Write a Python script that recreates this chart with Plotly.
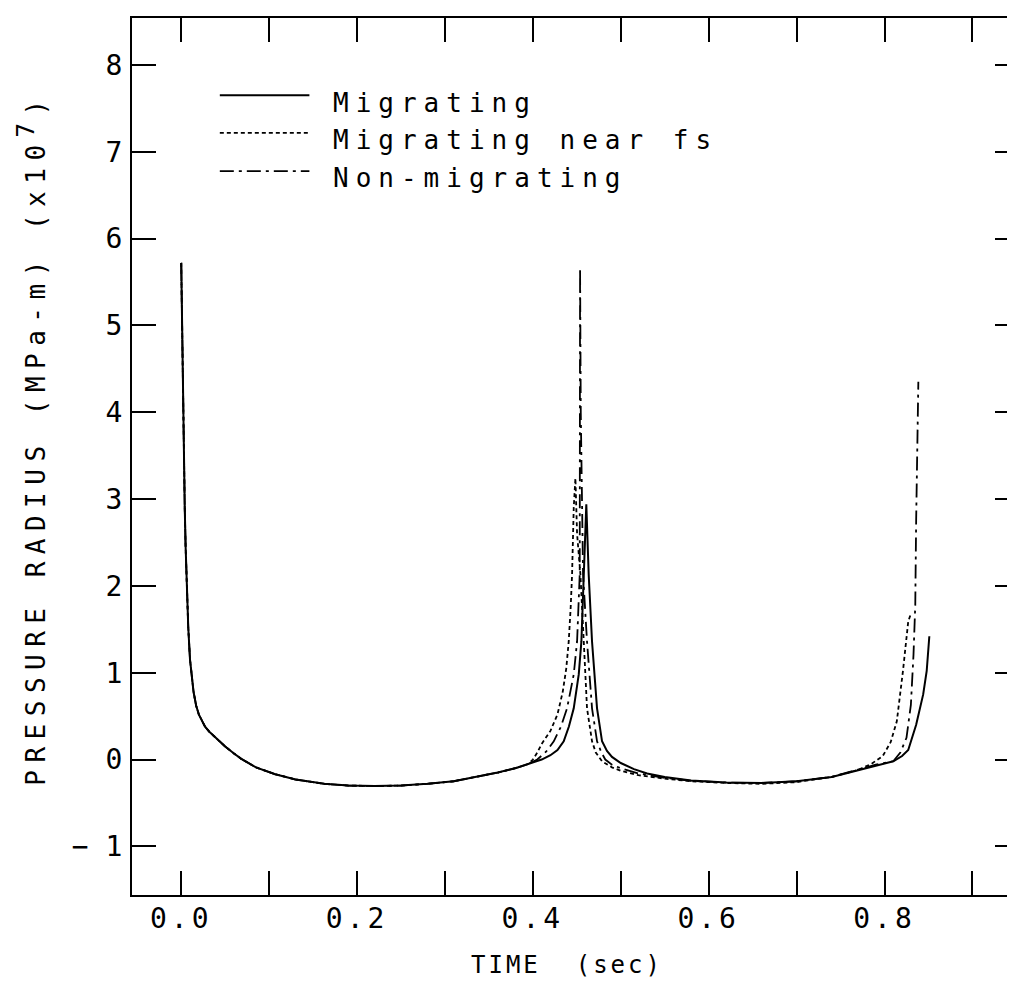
import plotly.graph_objects as go

# ---- data (time in s, pressure*radius in 1e7 MPa-m) ----
t_common = [0.0, 0.0005, 0.001, 0.002, 0.003, 0.004, 0.005, 0.006, 0.007, 0.008,
            0.010, 0.012, 0.014, 0.017, 0.020, 0.024, 0.027, 0.032, 0.037, 0.042,
            0.050, 0.060, 0.068, 0.085, 0.107, 0.130, 0.163, 0.190, 0.220, 0.250,
            0.280, 0.310, 0.340, 0.360, 0.380, 0.395]
p_common = [5.72, 5.30, 4.90, 4.10, 3.45, 2.90, 2.45, 2.10, 1.78, 1.52,
            1.15, 0.92, 0.78, 0.62, 0.52, 0.44, 0.38, 0.32, 0.27, 0.22,
            0.15, 0.07, 0.01, -0.09, -0.17, -0.23, -0.28, -0.30, -0.305, -0.30,
            -0.28, -0.25, -0.19, -0.15, -0.10, -0.05]

t_mig = [0.410, 0.420, 0.428, 0.4351, 0.441, 0.4465, 0.4522, 0.4552, 0.4579, 0.4608,
         0.4635, 0.4673, 0.4730, 0.4787, 0.4843, 0.490, 0.500, 0.515, 0.530, 0.550,
         0.580, 0.620, 0.660, 0.700, 0.740, 0.770, 0.790, 0.810, 0.820, 0.827,
         0.836, 0.844, 0.848, 0.851]
p_mig = [0.00, 0.05, 0.11, 0.21, 0.38, 0.59, 0.98, 1.36, 2.13, 2.94,
         2.13, 1.36, 0.59, 0.21, 0.10, 0.03, -0.04, -0.11, -0.16, -0.20,
         -0.24, -0.265, -0.27, -0.25, -0.20, -0.12, -0.07, -0.02, 0.04, 0.11,
         0.40, 0.75, 1.02, 1.42]

t_fs = [0.400, 0.405, 0.410, 0.420, 0.428, 0.434, 0.438, 0.4408, 0.443, 0.4446,
        0.4465, 0.4484, 0.4503, 0.4541, 0.4579, 0.4616, 0.4673, 0.4716, 0.4787, 0.490,
        0.500, 0.520, 0.550, 0.580, 0.620, 0.660, 0.700, 0.740, 0.770, 0.785,
        0.798, 0.807, 0.814, 0.821, 0.827, 0.830]
p_fs = [0.00, 0.08, 0.18, 0.33, 0.52, 0.78, 1.05, 1.36, 1.75, 2.13,
        2.90, 3.24, 2.60, 2.13, 1.36, 0.59, 0.21, 0.08, -0.02, -0.09,
        -0.13, -0.18, -0.22, -0.25, -0.27, -0.28, -0.26, -0.20, -0.12, -0.05,
        0.04, 0.20, 0.44, 1.02, 1.59, 1.68]

t_non = [0.405, 0.415, 0.4238, 0.432, 0.4389, 0.443, 0.4465, 0.4503, 0.4533, 0.4537,
         0.4545, 0.4571, 0.4616, 0.4673, 0.4730, 0.478, 0.4824, 0.490, 0.500, 0.520,
         0.550, 0.580, 0.620, 0.660, 0.700, 0.740, 0.770, 0.790, 0.810, 0.818,
         0.825, 0.830, 0.833, 0.835, 0.836, 0.8375, 0.8385]
p_non = [0.00, 0.09, 0.21, 0.38, 0.59, 0.78, 0.98, 1.36, 2.13, 5.66,
         4.00, 2.13, 1.36, 0.59, 0.21, 0.08, 0.00, -0.06, -0.10, -0.16,
         -0.21, -0.245, -0.265, -0.27, -0.25, -0.20, -0.12, -0.06, -0.02, 0.08,
         0.25, 0.63, 1.21, 1.78, 2.75, 3.51, 4.35]

series_names = ["Migrating", "Migrating near fs", "Non-migrating"]
x_tickvals = [0.0, 0.2, 0.4, 0.6, 0.8]
x_ticktext = ["0.0", "0.2", "0.4", "0.6", "0.8"]
y_tickvals = [-1, 0, 1, 2, 3, 4, 5, 6, 7, 8]
y_ticktext = ["\u2212 1", "0", "1", "2", "3", "4", "5", "6", "7", "8"]

FONT = "DejaVu Sans Mono"


def spaced(s, px):
    return f'<span style="letter-spacing:{px}px">{s}</span>'


dashes = ["solid", "4px,3px", "14px,5px,3px,5px"]
widths = [2, 1.8, 1.8]
xs = [t_common + t_mig, t_common + t_fs, t_common + t_non]
ys = [p_common + p_mig, p_common + p_fs, p_common + p_non]

fig = go.Figure()
for name, x, y, d, w in zip(series_names, xs, ys, dashes, widths):
    fig.add_trace(go.Scatter(x=x, y=y, mode="lines", name=name,
                             line=dict(color="black", width=w, dash=d),
                             showlegend=False))

# manual legend (long line samples like the plotter legend)
leg_y = [0.912, 0.869, 0.8255]
for name, ly, d, w in zip(series_names, leg_y, dashes, widths):
    fig.add_shape(type="line", xref="paper", yref="paper", x0=0.099, x1=0.200,
                  y0=ly, y1=ly, line=dict(color="black", width=w, dash=d))
    fig.add_annotation(xref="paper", yref="paper", x=0.224, y=ly + 0.011,
                       xanchor="left", yanchor="top", showarrow=False,
                       text=spaced(name, 7), font=dict(family=FONT, size=26, color="black"))

fig.add_annotation(xref="paper", yref="paper", x=0.49, y=-0.08, xanchor="center",
                   yanchor="middle", showarrow=False,
                   text=spaced("TIME  (sec)", 3),
                   font=dict(family=FONT, size=24, color="black"))
fig.add_annotation(xref="paper", yref="paper", x=-0.113, y=0.52, xanchor="center",
                   yanchor="middle", showarrow=False, textangle=-90,
                   text=spaced('PRESSURE RADIUS (MPa-m) (x10<sup><span style="font-size:24px">7</span></sup>)', 7.5),
                   font=dict(family=FONT, size=26, color="black"))

axis_common = dict(showline=True, linecolor="black", linewidth=2, mirror="ticks",
                   ticks="inside", ticklen=24, tickwidth=2, tickcolor="black",
                   showgrid=False, zeroline=False,
                   tickfont=dict(family=FONT, size=28, color="black"))
fig.update_xaxes(range=[-0.056, 0.953], tickmode="array", tickvals=x_tickvals,
                 ticktext=[spaced(s, 4) for s in x_ticktext],
                 minor=dict(ticks="inside", ticklen=24, tickwidth=2, tickcolor="black",
                            dtick=0.1, tick0=0.0, showgrid=False),
                 ticklabelstandoff=-3, **axis_common)
fig.update_yaxes(range=[-1.56, 8.54], tickmode="array", tickvals=y_tickvals,
                 ticktext=y_ticktext, ticklabelstandoff=2, **axis_common)

fig.update_layout(width=1015, height=999, margin=dict(l=124, r=2, t=10, b=112),
                  paper_bgcolor="white", plot_bgcolor="white", showlegend=False)

fig.write_html("out.html")
